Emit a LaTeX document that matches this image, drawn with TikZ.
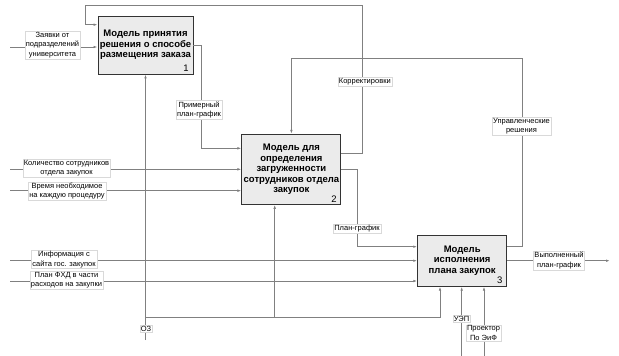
\documentclass[tikz,border=0pt]{standalone}
\usepackage{fontspec}
\setmainfont{Liberation Sans}
\usetikzlibrary{arrows.meta}

\begin{document}
\begin{tikzpicture}[x=1pt, y=-1pt,
  func/.style={draw=black!80, fill=black!8, line width=0.9pt, align=center,
               font=\fontsize{9.5}{10.5}\selectfont\bfseries, inner sep=1pt},
  num/.style={font=\fontsize{9.5}{10}\selectfont, anchor=south east, inner xsep=4.5pt, inner ysep=2.5pt},
  flow/.style={-{Latex[length=4pt, width=2.6pt]}, black!50, line width=0.8pt},
  lbl/.style={fill=white, draw=black!15, line width=0.3pt, align=center,
              font=\fontsize{7.5}{9.3}\selectfont, inner sep=1pt}]
\useasboundingbox (0,0) rectangle (619,356);
\node[func, minimum width=95pt, minimum height=58pt] (m1) at (145.5,45)
  {Модель принятия\\решения о способе\\размещения заказа};
\node[func, minimum width=99pt, minimum height=70pt] (m2) at (291.4,169.3)
  {Модель для\\определения\\загруженности\\сотрудников отдела\\закупок};
\node[func, minimum width=89pt, minimum height=51pt] (m3) at (462.2,260.7)
  {Модель\\исполнения\\плана закупок};
\node[num] (k1) at (m1.south east) {1};
\node[num] (k2) at (m2.south east) {2};
\node[num] (k3) at (m3.south east) {3};

\foreach \n/\y/\m in {inZ/47/m1, inK/169.3/m2, inW/190.7/m2, inI/260.7/m3, inF/281/m3}{
  \coordinate (\n) at (10,\y);
  \draw[flow] (\n) -- (\n -| \m.west);
}
\foreach \n/\x in {meU/461.7, meP/484}{
  \coordinate (\n) at (\x,356);
  \draw[flow] (\n) -- (\n |- m3.south);
}
\coordinate (bPr) at (201,148.3);
\coordinate (bKr) at (362.7,5.3);
\coordinate (bTop) at (85,24.7);
\coordinate (bPg) at (357.3,246.7);
\coordinate (bUp) at (522.7,58);
\coordinate (outV) at (610,260.7);
\coordinate (oz) at (145.5,340);
\coordinate (ozB) at (145.5,317.7);

\draw[flow] (m1.east) -| (bPr) -- (bPr -| m2.west);
\draw[flow] ([yshift=16pt]m2.east) -| (bKr) -| (bTop) -- (bTop -| m1.west);
\draw[flow] (m2.east) -| (bPg) -- (bPg -| m3.west);
\draw[flow] ([yshift=14pt]m3.east) -| (bUp) -| (m2.north);
\draw[flow] (m3.east) -- (outV);
\draw[flow] (oz) -- (m1.south);
\draw[flow] (ozB) -| ([xshift=-22.2pt]m3.south);
\draw[flow] ([xshift=-16.7pt]m2.south |- ozB) -- ([xshift=-16.7pt]m2.south);

\node[lbl] (tZ) at (52.5,45) {Заявки от\\подразделений\\университета};
\node[lbl] (tK) at (66.5,168) {Количество сотрудников\\отдела закупок};
\node[lbl] (tW) at (67,191) {Время необходимое\\на каждую процедуру};
\node[lbl] (tI) at (64,259.5) {Информация с\\сайта гос. закупок};
\node[lbl] (tF) at (66.5,280.5) {План ФХД в части\\расходов на закупки};
\node[lbl] (tPr) at (199,109.7) {Примерный\\план-график};
\node[lbl] (tKr) at (364.8,81.8) {Корректировки};
\node[lbl] (tPg) at (357,229) {План-график};
\node[lbl] (tU) at (521.5,126) {Управленческие\\решения};
\node[lbl] (tV) at (559,260.5) {Выполненный\\план-график};
\node[lbl] (tOz) at (146,328.5) {ОЗ};
\node[lbl] (tUe) at (461.5,318.5) {УЭП};
\node[lbl] (tPe) at (483.5,333) {Проектор\\По ЭиФ};
\end{tikzpicture}
\end{document}
